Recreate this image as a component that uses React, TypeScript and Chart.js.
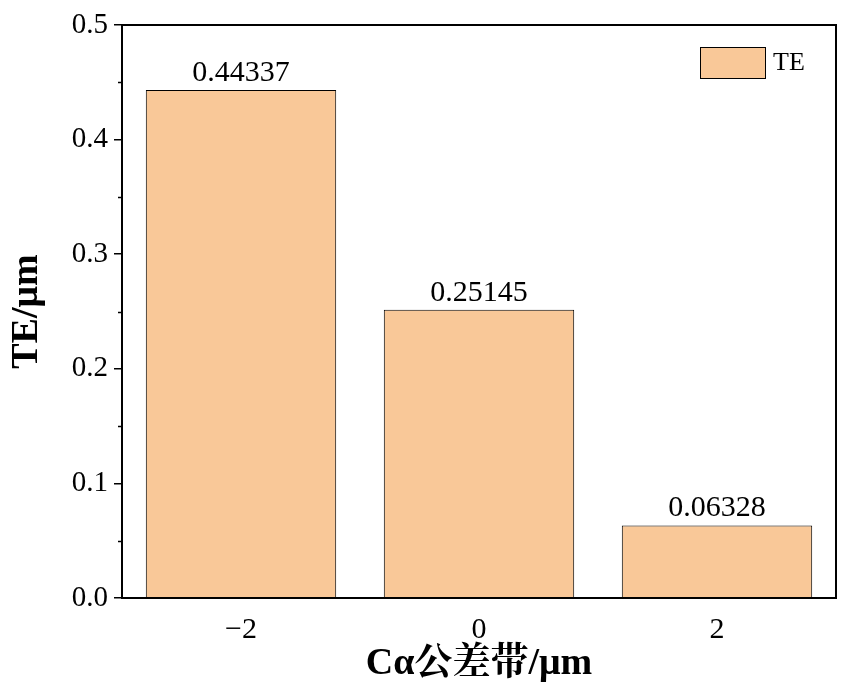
import React, { useEffect, useRef } from "react";
import { Chart, registerables } from "chart.js";
Chart.register(...registerables);

const categories = ["\u22122", "0", "2"];
const teValues = [0.44337, 0.25145, 0.06328];
const valueLabels = ["0.44337", "0.25145", "0.06328"];
const seriesName = "TE";

const FONT = "'Liberation Serif', 'Noto Serif CJK SC', 'Noto Sans CJK SC', serif";

const decor = {
  id: "decor",
  afterDatasetsDraw(chart: any) {
    const { ctx, chartArea: a, scales } = chart;
    const y = scales.y;
    ctx.save();
    ctx.strokeStyle = "#000";
    ctx.lineWidth = 2;
    ctx.strokeRect(a.left, a.top, a.right - a.left, a.bottom - a.top);
    ctx.lineWidth = 1.5;
    for (let v = 0.05; v < 0.5; v += 0.1) {
      const py = Math.round(y.getPixelForValue(v)) + 0.5;
      ctx.beginPath();
      ctx.moveTo(a.left - 4, py);
      ctx.lineTo(a.left, py);
      ctx.stroke();
    }
    const meta = chart.getDatasetMeta(0);
    ctx.fillStyle = "#000";
    ctx.font = `30px ${FONT}`;
    ctx.textAlign = "center";
    ctx.textBaseline = "bottom";
    meta.data.forEach((bar: any, i: number) => {
      ctx.fillText(valueLabels[i], bar.x, bar.y - 2);
    });
    const lx = 700, ly = 47, lw = 65, lh = 31;
    ctx.fillStyle = "#F9C898";
    ctx.fillRect(lx, ly, lw, lh);
    ctx.lineWidth = 1;
    ctx.strokeRect(lx + 0.5, ly + 0.5, lw, lh);
    ctx.fillStyle = "#000";
    ctx.font = `26px ${FONT}`;
    ctx.textAlign = "left";
    ctx.textBaseline = "middle";
    ctx.fillText(seriesName, lx + lw + 8, ly + lh / 2 + 1);
    ctx.restore();
  },
};

export default function App() {
  const ref = useRef<HTMLCanvasElement>(null);
  useEffect(() => {
    const chart = new Chart(ref.current!, {
      type: "bar",
      data: {
        labels: categories,
        datasets: [
          {
            label: seriesName,
            data: teValues,
            backgroundColor: "#F9C898",
            borderColor: "#000",
            borderWidth: 1,
            barPercentage: 0.8,
            categoryPercentage: 1,
          },
        ],
      },
      options: {
        responsive: false,
        animation: false,
        layout: { padding: { left: 0, top: 25, right: 29, bottom: 0 } },
        plugins: { legend: { display: false }, tooltip: { enabled: false } },
        scales: {
          x: {
            grid: { display: false, drawTicks: false },
            border: { display: false },
            ticks: { color: "#000", font: { family: FONT, size: 30 }, padding: 14 },
            title: {
              display: true,
              text: "C\u03b1\u516c\u5dee\u5e26/\u03bcm",
              color: "#000",
              font: { family: FONT, size: 38, weight: "bold" },
              padding: { top: 0 },
            },
            afterFit(s: any) { s.height = 93; },
          },
          y: {
            min: 0,
            max: 0.5,
            ticks: {
              stepSize: 0.1,
              color: "#000",
              font: { family: FONT, size: 29 },
              padding: 6,
              callback: (v: any) => Number(v).toFixed(1),
            },
            grid: { drawOnChartArea: false, tickLength: 8, color: "#000", lineWidth: 1.5 },
            border: { display: false },
            title: {
              display: true,
              text: "TE/\u03bcm",
              color: "#000",
              font: { family: FONT, size: 38, weight: "bold" },
              padding: { bottom: 2 },
            },
            afterFit(s: any) { s.width = 122; },
          },
        },
      },
      plugins: [decor],
    });
    return () => chart.destroy();
  }, []);
  return (
    <div style={{ position: "absolute", left: 0, top: 0, width: 865, height: 691, background: "#fff" }}>
      <canvas ref={ref} width={865} height={691} />
    </div>
  );
}
